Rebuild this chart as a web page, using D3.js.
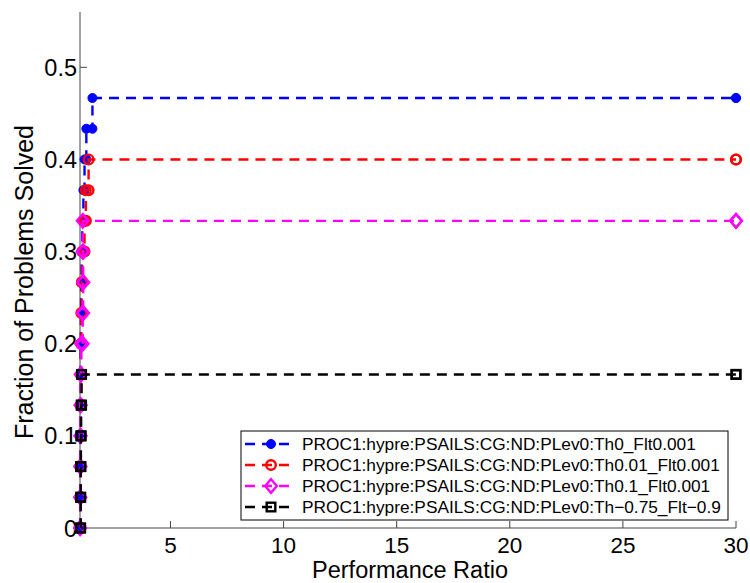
<!DOCTYPE html>
<html>
<head>
<meta charset="utf-8">
<script src="https://cdn.jsdelivr.net/npm/d3@7/dist/d3.min.js"></script>
<style>
  body { margin: 0; background: #fff; }
  svg { display: block; font-family: "Liberation Sans", Arial, sans-serif; }
</style>
</head>
<body>
<svg id="chart" width="750" height="583"></svg>
<script>
// series labels and colours
const seriesNames = [
  'PROC1:hypre:PSAILS:CG:ND:PLev0:Th0_Flt0.001',
  'PROC1:hypre:PSAILS:CG:ND:PLev0:Th0.01_Flt0.001',
  'PROC1:hypre:PSAILS:CG:ND:PLev0:Th0.1_Flt0.001',
  'PROC1:hypre:PSAILS:CG:ND:PLev0:Th\u22120.75_Flt\u22120.9'
];
const seriesColors = ['#0000ff', '#ff0000', '#ff00ff', '#000000'];
const seriesMarkers = ['dot', 'circle', 'diamond', 'square'];

const nProblems = 30;

// performance ratios (x) and number of problems solved (y) per series
const ratiosTh0 = [1, 1.01, 1.01, 1.02, 1.02, 1.03, 1.03, 1.04, 1.05, 1.07, 1.1, 1.15, 1.2, 1.28, 1.55, 30];
const solvedTh0 = [0, 1, 2, 3, 4, 5, 6, 7, 8, 9, 10, 11, 12, 13, 14, 14];

const ratiosTh001 = [1, 1.01, 1.01, 1.02, 1.03, 1.04, 1.05, 1.06, 1.08, 1.1, 1.2, 1.26, 1.38, 30];
const solvedTh001 = [0, 1, 2, 3, 4, 5, 6, 7, 8, 9, 10, 11, 12, 12];

const ratiosTh01 = [1, 1.01, 1.01, 1.02, 1.02, 1.03, 1.05, 1.12, 1.14, 1.14, 1.12, 30];
const solvedTh01 = [0, 1, 2, 3, 4, 5, 6, 7, 8, 9, 10, 10];

const ratiosThNeg = [1.02, 1.03, 1.03, 1.04, 1.05, 1.07, 30];
const solvedThNeg = [0, 1, 2, 3, 4, 5, 5];

const seriesRatios = [ratiosTh0, ratiosTh001, ratiosTh01, ratiosThNeg];
const seriesSolved = [solvedTh0, solvedTh001, solvedTh01, solvedThNeg];

// axis ticks
const xTicks = [5, 10, 15, 20, 25, 30];
const yTicks = [0, 0.1, 0.2, 0.3, 0.4, 0.5];

const svg = d3.select('#chart');

const x = d3.scaleLinear().domain([1, 30]).range([80, 736]);
const y = d3.scaleLinear().domain([0, 0.56]).range([528, 12]);

// stairs: horizontal then vertical, markers on every corner
function stairs(xs, ys) {
  const pts = [];
  for (let i = 0; i < xs.length; i++) {
    const yv = ys[i] / nProblems;
    if (i > 0) pts.push([xs[i], ys[i - 1] / nProblems]);
    pts.push([xs[i], yv]);
  }
  return pts;
}

function drawMarker(g, type, color, px, py) {
  if (type === 'dot') {
    g.append('circle').attr('cx', px).attr('cy', py).attr('r', 4.5)
      .attr('fill', color).attr('stroke', color).attr('stroke-width', 1);
  } else if (type === 'circle') {
    g.append('circle').attr('cx', px).attr('cy', py).attr('r', 4.8)
      .attr('fill', 'none').attr('stroke', color).attr('stroke-width', 2.4);
  } else if (type === 'diamond') {
    g.append('path')
      .attr('d', `M${px},${py - 6.8}L${px + 5.8},${py}L${px},${py + 6.8}L${px - 5.8},${py}Z`)
      .attr('fill', 'none').attr('stroke', color).attr('stroke-width', 2.4);
  } else {
    g.append('rect').attr('x', px - 4.3).attr('y', py - 4.3)
      .attr('width', 8.6).attr('height', 8.6)
      .attr('fill', 'none').attr('stroke', color).attr('stroke-width', 2.4);
  }
}

// axes lines (left and bottom only)
const axisColor = '#444';
svg.append('line').attr('x1', x(1)).attr('x2', x(1)).attr('y1', y(0.56)).attr('y2', y(0))
  .attr('stroke', axisColor).attr('stroke-width', 1);
svg.append('line').attr('x1', x(1)).attr('x2', x(30)).attr('y1', y(0)).attr('y2', y(0))
  .attr('stroke', axisColor).attr('stroke-width', 1);

// ticks
svg.append('g').selectAll('line').data(xTicks).enter().append('line')
  .attr('x1', d => x(d)).attr('x2', d => x(d))
  .attr('y1', y(0)).attr('y2', y(0) - 7)
  .attr('stroke', axisColor);
svg.append('g').selectAll('line').data(yTicks).enter().append('line')
  .attr('x1', x(1)).attr('x2', x(1) + 7)
  .attr('y1', d => y(d)).attr('y2', d => y(d))
  .attr('stroke', axisColor);

svg.append('g').selectAll('text').data(xTicks).enter().append('text')
  .attr('x', d => x(d)).attr('y', 553)
  .attr('text-anchor', 'middle').attr('font-size', 22.5)
  .text(d => d);
svg.append('g').selectAll('text').data(yTicks).enter().append('text')
  .attr('x', 77).attr('y', d => y(d) + 8.5)
  .attr('text-anchor', 'end').attr('font-size', 23.5)
  .text(d => d);

// axis labels
svg.append('text').attr('x', 410).attr('y', 578)
  .attr('text-anchor', 'middle').attr('font-size', 23.5)
  .text('Performance Ratio');
svg.append('text')
  .attr('transform', 'translate(33,282) rotate(-90)')
  .attr('text-anchor', 'middle').attr('font-size', 25)
  .text('Fraction of Problems Solved');

// series
const line = d3.line().x(d => x(d[0])).y(d => y(d[1]));
seriesNames.forEach((name, i) => {
  const pts = stairs(seriesRatios[i], seriesSolved[i]);
  const g = svg.append('g');
  g.append('path').datum(pts).attr('d', line)
    .attr('fill', 'none').attr('stroke', seriesColors[i])
    .attr('stroke-width', 2.4).attr('stroke-dasharray', '10,7');
  pts.forEach(p => drawMarker(g, seriesMarkers[i], seriesColors[i], x(p[0]), y(p[1])));
});

// legend
const lg = svg.append('g');
lg.append('rect').attr('x', 241).attr('y', 431).attr('width', 487).attr('height', 89)
  .attr('fill', '#fff').attr('stroke', '#000').attr('stroke-width', 1);
seriesNames.forEach((name, i) => {
  const ry = 444 + i * 21;
  lg.append('line').attr('x1', 245).attr('x2', 294).attr('y1', ry).attr('y2', ry)
    .attr('stroke', seriesColors[i]).attr('stroke-width', 2.4)
    .attr('stroke-dasharray', '10,7');
  drawMarker(lg, seriesMarkers[i], seriesColors[i], 271, ry);
  lg.append('text').attr('x', 302).attr('y', ry + 6)
    .attr('font-size', 17.3).text(name);
});
</script>
</body>
</html>
